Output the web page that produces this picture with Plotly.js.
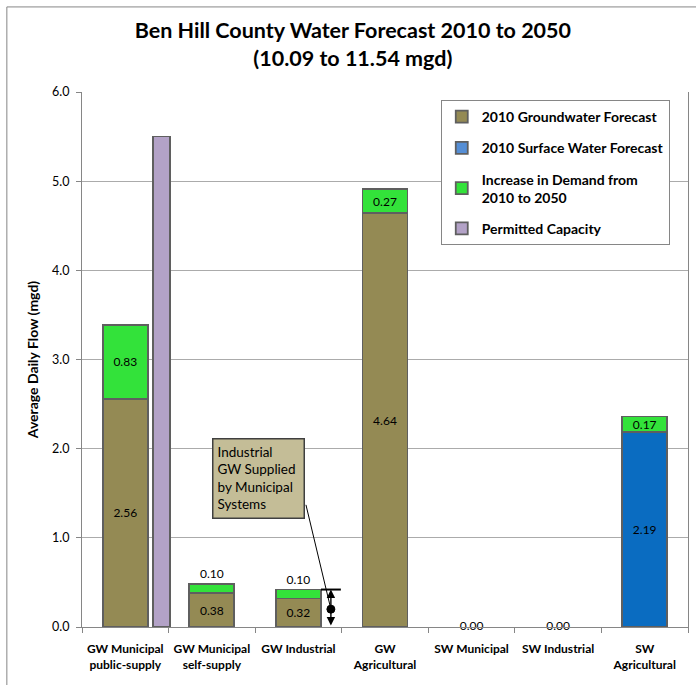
<!DOCTYPE html>
<html>
<head>
<meta charset="utf-8">
<script src="https://cdn.plot.ly/plotly-3.0.1.min.js"></script>
<style>html,body{margin:0;padding:0;background:#fff;}#chart{width:696px;height:685px;}</style>
</head>
<body>
<div id="chart"></div>
<script>
// ---- data ----
const categories = ['GW Municipal<br>public-supply', 'GW Municipal<br>self-supply', 'GW Industrial', 'GW<br>Agricultural', 'SW Municipal', 'SW Industrial', 'SW<br>Agricultural'];
const groundwater2010 = [2.56, 0.38, 0.32, 4.64, 0, 0, 0];
const surfacewater2010 = [0, 0, 0, 0, 0, 0, 2.19];
const increase2010to2050 = [0.83, 0.10, 0.10, 0.27, 0, 0, 0.17];
const permittedCategories = ['GW Municipal<br>public-supply'];
const permittedCapacity = [5.5];
const yTickVals = [0, 1, 2, 3, 4, 5, 6];

const FONT = 'Lato, "Open Sans", sans-serif';
const EDGE = {color: '#5f5f5f', width: 1.8};
const fmt = v => v.toFixed(2);
const nz = arr => arr.map(v => v > 0 ? v : null);
const lbl = arr => arr.map(v => v > 0 ? fmt(v) : '');

const totals = categories.map((c, i) => groundwater2010[i] + surfacewater2010[i] + increase2010to2050[i]);
const zeroCats = categories.filter((c, i) => totals[i] === 0);
const zeroVals = totals.filter(t => t === 0);

const traces = [
  {type: 'bar', name: '2010 Groundwater Forecast', x: categories, y: nz(groundwater2010),
   marker: {color: '#948A54', line: EDGE}, width: 0.52,
   text: lbl(groundwater2010), textposition: 'inside', insidetextanchor: 'middle', constraintext: 'none',
   textfont: {family: FONT, size: 12, color: '#000'}, legendgroup: 'a', hoverinfo: 'y'},
  {type: 'bar', name: '2010 Surface Water Forecast', x: categories, y: nz(surfacewater2010),
   marker: {color: '#0A6CC1', line: EDGE}, width: 0.52, showlegend: false,
   text: lbl(surfacewater2010), textposition: 'inside', insidetextanchor: 'middle', constraintext: 'none',
   textfont: {family: FONT, size: 12, color: '#000'}, legendgroup: 'b', hoverinfo: 'y'},
  {type: 'bar', name: '2010 Surface Water Forecast', x: [categories[0]], y: [null],
   marker: {color: '#558ED5', line: EDGE}, legendgroup: 'b', hoverinfo: 'skip'},
  {type: 'bar', name: 'Increase in Demand from<br>2010 to 2050', x: categories, y: nz(increase2010to2050),
   marker: {color: '#33E23A', line: EDGE}, width: 0.52,
   text: lbl(increase2010to2050),
   textposition: increase2010to2050.map(v => v < 0.15 ? 'outside' : 'inside'),
   insidetextanchor: 'middle', constraintext: 'none', cliponaxis: false,
   textfont: {family: FONT, size: 12, color: '#000'}, legendgroup: 'c', hoverinfo: 'y'},
  {type: 'bar', name: 'Permitted Capacity', x: permittedCategories, y: permittedCapacity,
   yaxis: 'y2', marker: {color: '#B3A2C7', line: EDGE}, width: 0.2, offset: 0.32,
   legendgroup: 'd', hoverinfo: 'y'},
  {type: 'scatter', mode: 'text', x: zeroCats, y: zeroVals, text: zeroVals.map(fmt),
   textposition: 'middle center', textfont: {family: FONT, size: 12, color: '#000'},
   showlegend: false, cliponaxis: false, hoverinfo: 'skip'}
];

const indTotal = groundwater2010[2] + increase2010to2050[2];
const dimX = 2.375;

const layout = {
  width: 696, height: 685,
  margin: {l: 82, r: 8, t: 92, b: 58},
  paper_bgcolor: '#fff', plot_bgcolor: '#fff',
  font: {family: FONT, color: '#000'},
  barmode: 'stack',
  showlegend: true,
  title: {text: '<b>Ben Hill County Water Forecast 2010 to 2050<br>(10.09 to 11.54 mgd)</b>',
          font: {family: FONT, size: 21.5, color: '#000'}, x: 0.507, xanchor: 'center', y: 0.944, yanchor: 'top'},
  xaxis: {type: 'category', categoryorder: 'array', categoryarray: categories, range: [-0.5, 6.5],
          showline: true, linecolor: '#868686', linewidth: 1, ticks: 'outside', tickson: 'boundaries',
          ticklen: 5, tickcolor: '#868686', showgrid: false, ticklabelstandoff: 11, tickangle: 0,
          tickfont: {family: FONT, size: 12, color: '#000', weight: 'bold'}},
  yaxis: {range: [0, 6], tickvals: yTickVals, tickformat: '.1f', showline: true, mirror: true,
          linecolor: '#868686', linewidth: 1, ticks: 'outside', ticklen: 5, tickcolor: '#868686',
          showgrid: true, gridcolor: '#ababab', gridwidth: 1, zeroline: false, ticklabelstandoff: 4,
          tickfont: {family: FONT, size: 12.5, color: '#000'},
          title: {text: '<b>Average Daily Flow (mgd)</b>', font: {family: FONT, size: 14, color: '#000'}, standoff: 10}},
  yaxis2: {range: [0, 6], overlaying: 'y', visible: false, showgrid: false, zeroline: false},
  legend: {x: 0.592, y: 0.985, xanchor: 'left', yanchor: 'top', bgcolor: '#fff',
           bordercolor: '#868686', borderwidth: 1, traceorder: 'grouped', tracegroupgap: 10,
           font: {family: FONT, size: 14, color: '#000', weight: 'bold'}, entrywidth: 286},
  annotations: [
    {xref: 'x', yref: 'y', x: 1.0, y: 2.12, xanchor: 'left', yanchor: 'top', showarrow: false,
     text: 'Industrial<br>GW Supplied<br>by Municipal<br>Systems', align: 'left', valign: 'top',
     width: 82, height: 70, borderpad: 4, bgcolor: '#C4BD97', bordercolor: '#404040', borderwidth: 1.5,
     font: {family: FONT, size: 13.5, color: '#000'}},
    {xref: 'x', yref: 'y', axref: 'x', ayref: 'y', x: dimX, y: indTotal, ax: dimX, ay: 0,
     text: '', showarrow: true, arrowhead: 2, startarrowhead: 2, arrowside: 'end+start',
     arrowsize: 1.2, arrowwidth: 1.4, arrowcolor: '#000', standoff: 0, startstandoff: 0}
  ],
  shapes: [
    {type: 'rect', xref: 'paper', yref: 'paper', x0: -0.124, x1: 1.03, y0: -0.12, y1: 1.159,
     line: {color: '#868686', width: 1}, fillcolor: 'rgba(0,0,0,0)', layer: 'below'},
    {type: 'line', xref: 'x', yref: 'y', x0: 2.26, x1: 2.49, y0: indTotal, y1: indTotal,
     line: {color: '#000', width: 2}},
    {type: 'line', xref: 'x', yref: 'y', x0: 2.087, y0: 1.37, x1: dimX, y1: 0.2,
     line: {color: '#000', width: 1}},
    {type: 'circle', xref: 'x', yref: 'y', xsizemode: 'pixel', ysizemode: 'pixel',
     xanchor: dimX, yanchor: 0.2, x0: -4, x1: 4, y0: -4, y1: 4,
     fillcolor: '#000', line: {color: '#000', width: 1}}
  ]
};

Plotly.newPlot('chart', traces, layout, {displayModeBar: false, staticPlot: true});
</script>
</body>
</html>
